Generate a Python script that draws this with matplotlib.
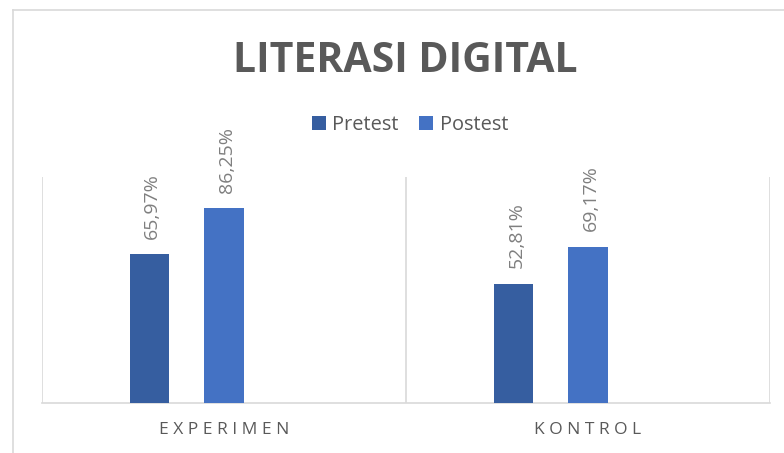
# LITERASI DIGITAL * PRETEST VS POSTEST BAR CHART ----------------------------
import matplotlib
matplotlib.use('Agg')
import matplotlib.pyplot as plt
from matplotlib.lines import Line2D
from matplotlib.patches import Patch
import numpy as np

# DEFINE INPUT DATA. ----------------------------------------------------------

CATEGORIES = ['EXPERIMEN', 'KONTROL']  # Group names on x axis.
SERIES = ['Pretest', 'Postest']  # Legend entries.
PRETEST = [65.97, 52.81]  # Pretest scores (%).
POSTEST = [86.25, 69.17]  # Postest scores (%).

# DEFINE STYLE PARAMETERS. ----------------------------------------------------

COLORS = ['#365ea0', '#4472c4']  # Bar fills.
GRID = '#d9d9d9'  # Light gray lines.
TEXT_DARK = '#595959'  # Title, legend, category text.
TEXT_LABEL = '#7f7f7f'  # Data label text.
FONT = 'Open Sans'

W, H = 784, 453  # Figure size in pixels.
BAR_W = 0.1085  # Bar width in category units.
OFFSETS = [-0.2047, 0.0]  # Bar offsets from category centre.

plt.rcParams['font.family'] = [FONT, 'DejaVu Sans']

# PLOT DATA. ------------------------------------------------------------------

fig = plt.figure(figsize=(W / 100, H / 100), dpi=100)
ax = fig.add_axes([42 / W, 1 - 403 / H, 728 / W, 226 / H])

x = np.arange(len(CATEGORIES))
for vals, off, col in zip([PRETEST, POSTEST], OFFSETS, COLORS):
    bars = ax.bar(x + off, vals, width=BAR_W, color=col, zorder=3)
    for b, v in zip(bars, vals):  # Rotated value labels over each bar.
        ax.annotate(('%.2f%%' % v).replace('.', ','),
                    xy=(b.get_x() + b.get_width() / 2, b.get_height()),
                    xytext=(2, 11), textcoords='offset points',
                    rotation=90, ha='center', va='bottom',
                    fontsize=14, color=TEXT_LABEL)

ax.set_xlim(-0.5, len(CATEGORIES) - 0.5)
ax.set_ylim(0, 100)

# Category boundary lines.
for xv in np.arange(-0.5, len(CATEGORIES), 1.0):
    ax.axvline(xv, color=GRID, lw=1.2, zorder=1)

for s in ['top', 'right', 'left']:
    ax.spines[s].set_visible(False)
ax.spines['bottom'].set_color(GRID)
ax.spines['bottom'].set_linewidth(1.2)

ax.set_yticks([])
ax.set_xticks(x)
ax.set_xticklabels([' '.join(c) for c in CATEGORIES], fontsize=12.5,
                   color=TEXT_DARK)
ax.tick_params(axis='x', length=0, pad=14)

# TITLE AND LEGEND. -----------------------------------------------------------

fig.text(405 / W, 1 - 71.7 / H, 'LITERASI DIGITAL', ha='center',
         va='baseline', fontsize=29.5, fontweight='bold', color=TEXT_DARK)

handles = [Patch(facecolor=c, edgecolor='none') for c in COLORS]
fig.legend(handles, SERIES, loc='center', ncol=2, frameon=False,
           bbox_to_anchor=(410 / W, 1 - 125 / H), fontsize=14.4,
           labelcolor=TEXT_DARK, handlelength=0.7, handleheight=0.7,
           handletextpad=0.35, columnspacing=1.0, borderpad=0,
           borderaxespad=0)

# Chart frame (cropped on right and bottom).
fig.add_artist(Line2D([13 / W, 13 / W], [0, 1 - 10 / H], color=GRID,
                      lw=1.2, transform=fig.transFigure))
fig.add_artist(Line2D([13 / W, 1], [1 - 10 / H, 1 - 10 / H], color=GRID,
                      lw=1.2, transform=fig.transFigure))

fig.savefig('out.png', dpi=100)
